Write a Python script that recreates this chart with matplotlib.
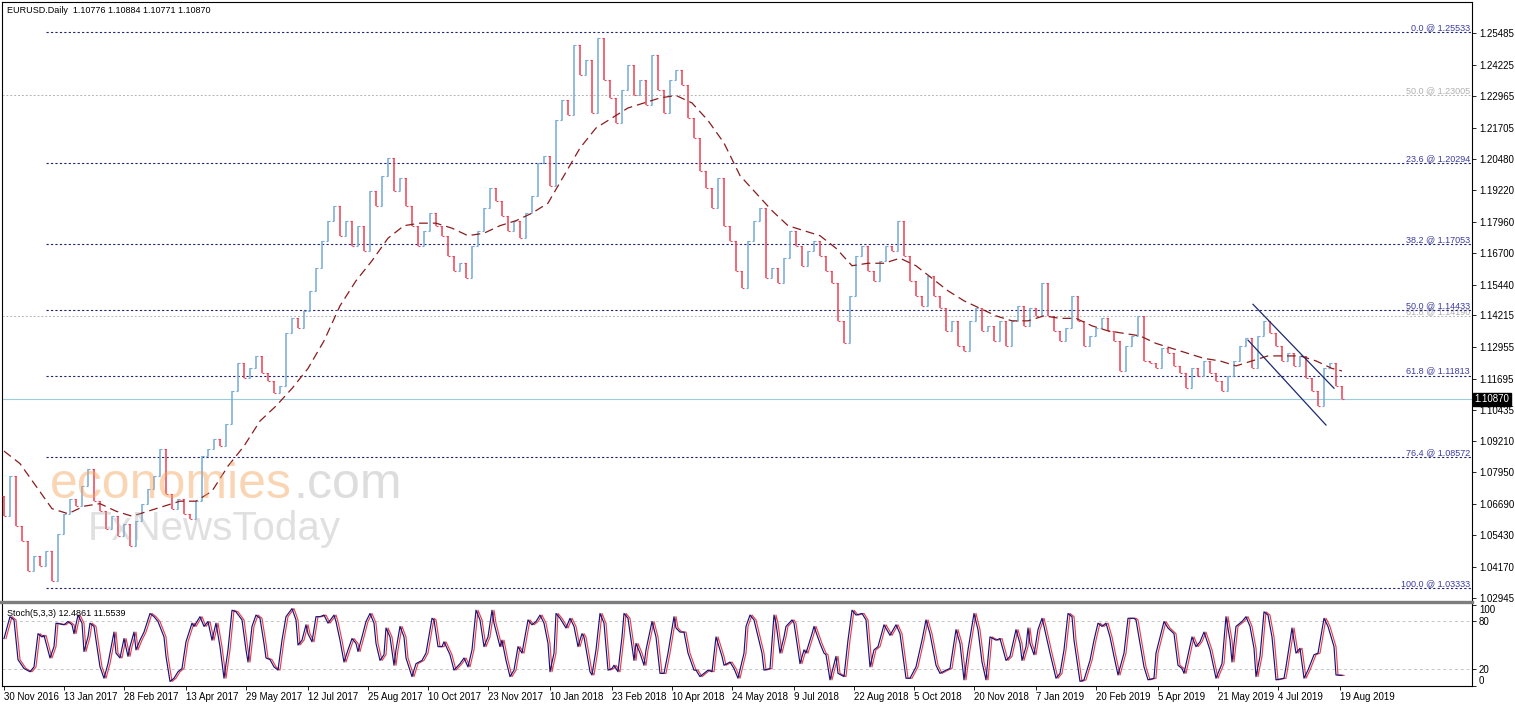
import numpy as np
import matplotlib.pyplot as plt
from matplotlib import transforms
from matplotlib.lines import Line2D

plt.rcParams['font.family'] = ['Liberation Sans', 'DejaVu Sans']

# EURUSD daily, one bar drawn per 3 trading days (x axis = trading day index)
bar_step = 3
first_open = 1.0700
closes = [
    1.062, 1.078, 1.058, 1.052, 1.040, 1.046, 1.042, 1.048, 1.036, 1.055,
    1.063, 1.069, 1.066, 1.074, 1.081, 1.068, 1.064, 1.057, 1.062, 1.054,
    1.059, 1.050, 1.060, 1.067, 1.073, 1.078, 1.089, 1.071, 1.065, 1.069,
    1.063, 1.061, 1.068, 1.086, 1.089, 1.093, 1.090, 1.099, 1.112, 1.123,
    1.117, 1.121, 1.126, 1.119, 1.116, 1.111, 1.114, 1.135, 1.141, 1.137,
    1.144, 1.152, 1.161, 1.172, 1.180, 1.186, 1.174, 1.180, 1.170, 1.178,
    1.168, 1.192, 1.186, 1.198, 1.205, 1.192, 1.197, 1.186, 1.178, 1.170,
    1.176, 1.183, 1.178, 1.174, 1.166, 1.160, 1.163, 1.157, 1.170, 1.176,
    1.185, 1.193, 1.188, 1.182, 1.176, 1.180, 1.173, 1.183, 1.190, 1.203,
    1.206, 1.194, 1.220, 1.228, 1.222, 1.250, 1.238, 1.244, 1.223, 1.253,
    1.236, 1.229, 1.219, 1.232, 1.242, 1.230, 1.236, 1.226, 1.246, 1.232,
    1.223, 1.236, 1.240, 1.234, 1.221, 1.213, 1.200, 1.193, 1.185, 1.197,
    1.178, 1.172, 1.160, 1.153, 1.172, 1.180, 1.185, 1.157, 1.161, 1.155,
    1.165, 1.176, 1.170, 1.162, 1.168, 1.172, 1.166, 1.160, 1.155, 1.140,
    1.131, 1.150, 1.166, 1.170, 1.160, 1.156, 1.164, 1.170, 1.168, 1.180,
    1.166, 1.156, 1.150, 1.146, 1.158, 1.150, 1.145, 1.136, 1.140, 1.130,
    1.128, 1.140, 1.145, 1.136, 1.138, 1.132, 1.140, 1.130, 1.140, 1.146,
    1.138, 1.145, 1.142, 1.155, 1.142, 1.136, 1.132, 1.137, 1.150, 1.140,
    1.130, 1.134, 1.137, 1.141, 1.136, 1.132, 1.120, 1.130, 1.134, 1.142,
    1.124, 1.123, 1.121, 1.129, 1.127, 1.122, 1.119, 1.113, 1.121, 1.118,
    1.124, 1.119, 1.116, 1.112, 1.118, 1.124, 1.130, 1.133, 1.121, 1.134,
    1.140, 1.135, 1.130, 1.124, 1.127, 1.122, 1.126, 1.117, 1.112, 1.106,
    1.121, 1.123, 1.114, 1.1087,
]

ma_days = list(range(0, 665, 8)) + [669]
ma_values = [
    1.088, 1.083, 1.074, 1.065, 1.063, 1.066, 1.067, 1.064, 1.062, 1.064,
    1.066, 1.068, 1.068, 1.072, 1.082, 1.090, 1.100, 1.106, 1.113, 1.121,
    1.132, 1.146, 1.156, 1.164, 1.173, 1.178, 1.179, 1.179, 1.177, 1.174,
    1.175, 1.178, 1.180, 1.183, 1.187, 1.198, 1.209, 1.217, 1.221, 1.225,
    1.227, 1.229, 1.230, 1.227, 1.220, 1.211, 1.198, 1.191, 1.184, 1.178,
    1.176, 1.174, 1.169, 1.162, 1.163, 1.163, 1.165, 1.162, 1.157, 1.152,
    1.148, 1.145, 1.142, 1.140, 1.140, 1.142, 1.141, 1.141, 1.138, 1.136,
    1.135, 1.134, 1.131, 1.129, 1.127, 1.125, 1.124, 1.122, 1.124, 1.126,
    1.126, 1.126, 1.124, 1.121, 1.120,
]

stoch_days = [
    0, 3, 5, 7, 10, 13, 15, 17, 19, 20, 23, 25, 26, 30, 32, 34, 35, 37, 39, 40,
    42, 43, 45, 46, 48, 50, 52, 55, 56, 58, 60, 62, 63, 65, 66, 68, 70, 73, 75, 77,
    80, 81, 83, 85, 87, 89, 91, 94, 95, 98, 100, 102, 104, 106, 108, 110, 112, 114, 116, 119,
    121, 122, 124, 126, 128, 130, 131, 133, 135, 137, 139, 141, 144, 146, 147, 149, 151, 152, 154, 156,
    158, 160, 162, 165, 166, 168, 170, 172, 174, 176, 177, 179, 181, 183, 185, 186, 188, 190, 191, 193,
    195, 196, 198, 200, 201, 204, 206, 209, 211, 214, 215, 217, 219, 220, 223, 225, 228, 230, 232, 234,
    236, 238, 240, 242, 244, 245, 248, 249, 251, 253, 255, 257, 259, 262, 264, 266, 268, 270, 272, 273,
    275, 276, 278, 281, 283, 285, 287, 289, 290, 293, 294, 296, 298, 300, 302, 304, 305, 307, 309, 310,
    312, 315, 316, 318, 320, 321, 324, 326, 328, 330, 332, 335, 336, 338, 340, 342, 345, 346, 348, 350,
    352, 354, 356, 359, 360, 363, 365, 367, 370, 371, 373, 375, 379, 380, 383, 385, 386, 388, 390, 391,
    394, 395, 398, 400, 401, 404, 405, 408, 410, 411, 413, 416, 417, 420, 422, 424, 426, 429, 431, 433,
    435, 437, 440, 443, 446, 448, 451, 453, 456, 459, 461, 463, 466, 468, 471, 473, 476, 478, 480, 482,
    485, 487, 489, 491, 493, 496, 498, 501, 503, 506, 508, 509, 511, 512, 513, 515, 517, 519, 520, 523,
    526, 528, 530, 532, 534, 535, 538, 540, 543, 545, 547, 549, 551, 553, 555, 557, 560, 562, 565, 566,
    568, 570, 572, 575, 576, 580, 582, 585, 587, 589, 590, 594, 596, 598, 600, 603, 606, 609, 611, 613,
    614, 616, 619, 621, 623, 625, 626, 628, 630, 632, 634, 636, 640, 641, 644, 646, 648, 650, 652, 655,
    657, 660, 662, 665, 666, 669,
]
stoch_main = [
    58, 85, 81, 32, 21, 17, 23, 64, 60, 62, 34, 48, 77, 75, 79, 75, 64, 87, 77, 42,
    60, 77, 73, 56, 23, 9, 27, 66, 40, 34, 58, 36, 48, 66, 44, 56, 66, 89, 85, 79,
    60, 36, 5, 9, 17, 21, 54, 77, 73, 85, 73, 79, 56, 77, 48, 9, 44, 93, 91, 81,
    44, 29, 73, 87, 83, 52, 34, 32, 23, 19, 56, 85, 95, 81, 50, 56, 75, 64, 54, 85,
    85, 87, 77, 87, 79, 56, 29, 44, 58, 52, 42, 60, 79, 89, 77, 52, 31, 38, 71, 60,
    25, 44, 73, 60, 34, 11, 27, 31, 40, 83, 81, 48, 48, 54, 38, 19, 27, 34, 23, 44,
    93, 81, 48, 60, 93, 77, 48, 56, 31, 11, 19, 48, 40, 81, 75, 79, 87, 77, 52, 17,
    40, 89, 83, 71, 83, 73, 48, 64, 60, 17, 13, 44, 89, 77, 19, 21, 25, 17, 60, 89,
    83, 31, 52, 40, 25, 44, 79, 60, 15, 15, 40, 85, 71, 66, 66, 40, 19, 19, 11, 15,
    19, 17, 60, 36, 25, 29, 21, 9, 40, 73, 87, 81, 40, 19, 21, 87, 77, 40, 60, 73,
    81, 77, 27, 44, 40, 64, 73, 52, 40, 38, 7, 36, 15, 11, 56, 93, 87, 89, 81, 23,
    44, 48, 75, 62, 75, 64, 9, 9, 23, 56, 81, 64, 25, 15, 19, 21, 69, 52, 7, 44,
    89, 69, 29, 7, 60, 56, 58, 31, 36, 69, 52, 31, 48, 71, 52, 38, 69, 83, 73, 40,
    9, 15, 44, 89, 85, 56, 5, 7, 31, 56, 77, 73, 77, 60, 36, 13, 40, 83, 83, 81,
    52, 23, 7, 9, 40, 79, 71, 64, 25, 21, 15, 60, 48, 54, 66, 44, 9, 27, 85, 56,
    29, 73, 79, 85, 73, 46, 11, 36, 91, 87, 60, 7, 9, 23, 71, 40, 46, 9, 19, 38,
    40, 83, 73, 48, 13, 12.5,
]
signal_lag = 1  # %D is a 3-bar average, it trails %K by about one bar

fib_levels = [1.25533, 1.20294, 1.17053, 1.14433, 1.11813, 1.08572, 1.03333]
fib_labels = ['0.0 @ 1.25533', '23.6 @ 1.20294', '38.2 @ 1.17053', '50.0 @ 1.14433',
              '61.8 @ 1.11813', '76.4 @ 1.08572', '100.0 @ 1.03333']
old_fib_levels = [1.23005, 1.14190]
old_fib_labels = ['50.0 @ 1.23005', '61.8 @ 1.14190']

channel_upper_days = [624.5, 665]
channel_upper_prices = [1.1466, 1.1131]
channel_lower_days = [622, 661]
channel_lower_prices = [1.1323, 1.0984]

last_price = 1.10870
price_ticks = [1.02945, 1.04170, 1.05430, 1.06690, 1.07950, 1.09210, 1.10435,
               1.11695, 1.12955, 1.14215, 1.15440, 1.16700, 1.17960, 1.19220,
               1.20480, 1.21705, 1.22965, 1.24225, 1.25485]

date_days = [0, 30, 60, 91, 121, 152, 182, 212, 242, 273, 304, 334, 364, 395,
             425, 455, 485, 516, 546, 577, 607, 637, 668]
date_labels = ['30 Nov 2016', '13 Jan 2017', '28 Feb 2017', '13 Apr 2017', '29 May 2017',
               '12 Jul 2017', '25 Aug 2017', '10 Oct 2017', '23 Nov 2017', '10 Jan 2018',
               '23 Feb 2018', '10 Apr 2018', '24 May 2018', '9 Jul 2018', '22 Aug 2018',
               '5 Oct 2018', '20 Nov 2018', '7 Jan 2019', '20 Feb 2019', '5 Apr 2019',
               '21 May 2019', '4 Jul 2019', '19 Aug 2019']

UP = '#74aad8'
DOWN = '#ee4052'
FIB = '#22226e'
FIB_TXT = '#3c3ca0'

W, H = 1515, 706
fig = plt.figure(figsize=(W / 100, H / 100), dpi=100)
ax = fig.add_axes([2 / W, (H - 600) / H, 1470 / W, 598 / H])
ax2 = fig.add_axes([2 / W, (H - 686) / H, 1470 / W, 83 / H])

x0, x1 = -1, 734
ax.set_xlim(x0, x1)
ax.set_ylim(1.02854, 1.26731)
ax2.set_xlim(x0, x1)
ax2.set_ylim(-0.6, 101.9)

# price bars
closes = np.array(closes)
opens = np.r_[first_open, closes[:-1]]
days = np.arange(len(closes)) * bar_step
up = closes >= opens
for mask, col in ((up, UP), (~up, DOWN)):
    ax.vlines(days[mask], opens[mask], closes[mask], color=col, lw=1.1, zorder=3)
    ax.hlines(opens[mask], days[mask] - 0.8, days[mask], color=col, lw=0.8, zorder=3)
    ax.hlines(closes[mask], days[mask], days[mask] + 0.8, color=col, lw=0.8, zorder=3)

ax.plot(ma_days, ma_values, color='#8a1c1c', lw=0.9, ls=(0, (7, 4)), zorder=4)

# fibonacci levels
ytrans = transforms.blended_transform_factory(ax.transAxes, ax.transData)
for lvl, lab in zip(old_fib_levels, old_fib_labels):
    ax.axhline(lvl, color='#b4b4b4', lw=0.7, ls=(0, (2, 2)), zorder=1)
    ax.text(0.9985, lvl, lab, transform=ytrans, ha='right', va='bottom',
            fontsize=6.5, color='#b0b0b0', zorder=1)
ax.hlines(fib_levels, 21, x1, color=FIB, lw=0.8, ls=(0, (2, 2)), zorder=2)
for lvl, lab in zip(fib_levels, fib_labels):
    ax.text(0.9985, lvl, lab, transform=ytrans, ha='right', va='bottom',
            fontsize=6.5, color=FIB_TXT, zorder=2)

ax.axhline(last_price, color='#9ccbe0', lw=0.8, zorder=1)
ax.text(1.0015, last_price, '%.5f' % last_price, transform=ytrans, ha='left', va='center',
        fontsize=7, color='white', clip_on=False,
        bbox=dict(facecolor='black', edgecolor='black', pad=1.2))

ax.plot(channel_upper_days, channel_upper_prices, color='#1c2a70', lw=0.9, zorder=5)
ax.plot(channel_lower_days, channel_lower_prices, color='#1c2a70', lw=0.9, zorder=5)

# watermark
ax.text(0.0327, 0.1706, 'economies', transform=ax.transAxes, fontsize=36,
        color='#f5a25a', alpha=0.45, zorder=6)
ax.text(0.198, 0.1706, '.com', transform=ax.transAxes, fontsize=36,
        color='#a0a0a0', alpha=0.35, zorder=6)
ax.text(0.0585, 0.1003, 'FxNewsToday', transform=ax.transAxes, fontsize=29,
        color='#a8a8a8', alpha=0.35, zorder=6)

ax.text(0.0035, 0.985, 'EURUSD.Daily  1.10776 1.10884 1.10771 1.10870',
        transform=ax.transAxes, fontsize=6.5, va='center', ha='left', color='black')

ax.yaxis.tick_right()
ax.set_yticks(price_ticks)
ax.set_yticklabels(['%.5f' % t for t in price_ticks])
ax.tick_params(axis='y', labelsize=7, length=3, width=0.6, pad=2)
ax.set_xticks([])
for s in ax.spines.values():
    s.set_linewidth(0.8)
ax.spines['bottom'].set_visible(False)

# stochastic
ax2.axhline(80, color='#c4c4c4', lw=0.7, ls=(0, (3, 3)))
ax2.axhline(20, color='#c4c4c4', lw=0.7, ls=(0, (3, 3)))
sd = np.array(stoch_days)
ax2.plot(sd + signal_lag, stoch_main, color='#e8404e', lw=0.85)
ax2.plot(sd, stoch_main, color='#14147a', lw=0.85)
ax2.text(0.0035, 0.87, 'Stoch(5,3,3) 12.4861 11.5539', transform=ax2.transAxes,
         fontsize=6.5, va='center', ha='left', color='black')

ax2.yaxis.tick_right()
ax2.set_yticks([0, 20, 80, 100])
ax2.set_yticklabels(['0', '20', '80', '100'])
ax2.tick_params(axis='y', labelsize=7, length=3, width=0.6, pad=2)
labs = ax2.get_yticklabels()
labs[0].set_va('bottom')
labs[3].set_va('top')
ax2.set_xticks(date_days)
ax2.set_xticklabels(date_labels, ha='left')
ax2.tick_params(axis='x', labelsize=7, length=3, width=0.6, pad=1)
for s in ax2.spines.values():
    s.set_linewidth(0.8)
ax2.spines['top'].set_visible(False)

# panel separator
fig.add_artist(Line2D([0, 1472 / W], [(H - 601.5) / H] * 2, color='#7d7d7d', lw=2.4))

fig.savefig('out.png', dpi=100)
